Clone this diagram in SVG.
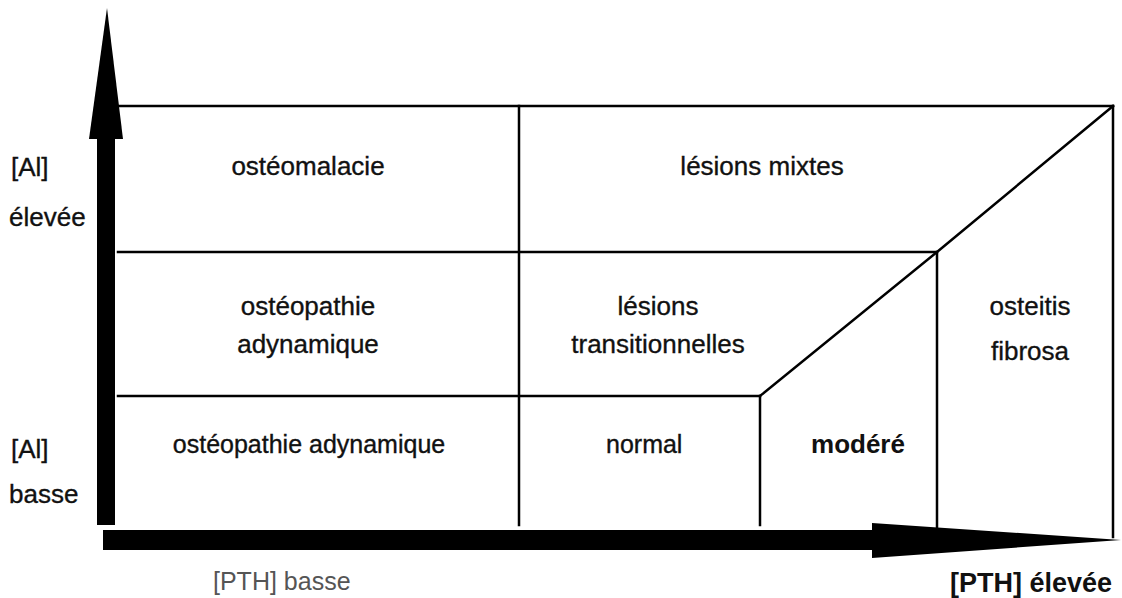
<svg xmlns="http://www.w3.org/2000/svg" width="1122" height="598" viewBox="0 0 1122 598">
  <style>
    .grid { stroke: #000; stroke-width: 2.5; fill: none; stroke-linecap: square; }
    .axis { fill: #000; stroke: none; }
    text { font-family: "Liberation Sans", Arial, sans-serif; font-size: 26px; fill: #111; stroke: #111; stroke-width: 0.35; }
    .c { text-anchor: middle; }
    .b { font-weight: bold; stroke-width: 0; }
    .light { fill: #555; stroke: none; font-size: 25px; }
    .sm { font-size: 25px; }
  </style>
  <rect x="0" y="0" width="1122" height="598" fill="#fff"/>

  <g id="connectors">
    <g id="axes">
      <rect class="axis" x="97" y="138" width="18" height="387"/>
      <polygon class="axis" points="89,139 107,8 123,139"/>
      <rect class="axis" x="103" y="530" width="770" height="20"/>
      <polygon class="axis" points="872,523 1121,540 872,558"/>
    </g>
    <g id="grid">
      <line class="grid" x1="118" y1="106" x2="1113" y2="106"/>
      <line class="grid" x1="118" y1="252" x2="937" y2="252"/>
      <line class="grid" x1="118" y1="396" x2="760" y2="396"/>
      <line class="grid" x1="519" y1="106" x2="519" y2="525"/>
      <line class="grid" x1="760" y1="396" x2="760" y2="525"/>
      <line class="grid" x1="937" y1="252" x2="937" y2="527"/>
      <line class="grid" x1="1113" y1="106" x2="1113" y2="537"/>
      <polyline class="grid" points="760,396 937,252 1113,106"/>
    </g>
  </g>

  <g id="osteomalacie"><text class="c" x="308" y="175">ostéomalacie</text></g>
  <g id="lesions-mixtes"><text class="c" x="762" y="175">lésions mixtes</text></g>
  <g id="osteopathie-adynamique-haute"><text class="c" x="308" y="315">ostéopathie</text><text class="c" x="308" y="353">adynamique</text></g>
  <g id="lesions-transitionnelles"><text class="c" x="658" y="315">lésions</text><text class="c" x="658" y="353">transitionnelles</text></g>
  <g id="osteitis-fibrosa"><text class="c" x="1030" y="315">osteitis</text><text class="c" x="1030" y="360">fibrosa</text></g>
  <g id="osteopathie-adynamique-basse"><text class="c sm" x="309" y="453">ostéopathie adynamique</text></g>
  <g id="normal"><text class="sm" x="606" y="453">normal</text></g>
  <g id="modere"><text class="c b" x="858" y="453">modéré</text></g>

  <g id="al-elevee"><text x="11" y="176">[Al]</text><text x="9" y="226">élevée</text></g>
  <g id="al-basse"><text x="11" y="458">[Al]</text><text x="9" y="503">basse</text></g>
  <g id="pth-basse"><text class="light" x="213" y="590">[PTH] basse</text></g>
  <g id="pth-elevee"><text class="b" x="950" y="592" style="font-size:27px">[PTH] élevée</text></g>
</svg>
